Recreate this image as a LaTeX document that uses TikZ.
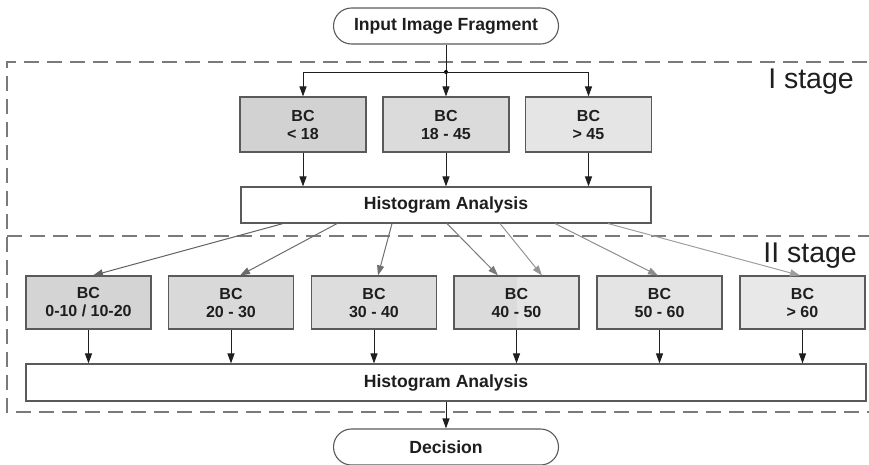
\documentclass[tikz,border=0pt]{standalone}
\usepackage{fontspec}
\setmainfont{Liberation Sans}
\usetikzlibrary{arrows.meta,calc}
\definecolor{bord}{HTML}{5A5A5A}
\definecolor{txt}{HTML}{1E1E1E}
\definecolor{dashc}{HTML}{7A7A7A}
\definecolor{fa}{HTML}{D2D2D2}
\definecolor{fb}{HTML}{DBDBDB}
\definecolor{fc}{HTML}{E5E5E5}
\definecolor{ga}{HTML}{D4D4D4}
\definecolor{gb}{HTML}{D9D9D9}
\definecolor{gc}{HTML}{DDDDDD}
\definecolor{gdl}{HTML}{DBDBDB}
\definecolor{gdr}{HTML}{E4E4E4}
\definecolor{ge}{HTML}{E4E4E4}
\definecolor{gf}{HTML}{E8E8E8}
\begin{document}
\begin{tikzpicture}[x=1pt,y=-1pt,
  box/.style={draw=bord, line width=1.1pt, minimum width=126pt, minimum height=55pt,
    inner sep=0pt, align=center, text=txt,
    font=\bfseries\fontsize{16}{18}\selectfont},
  lowbox/.style={box, minimum width=125pt, minimum height=53pt},
  wbox/.style={box, fill=white, minimum height=36pt, font=\bfseries\fontsize{17.6}{20}\selectfont},
  term/.style={wbox, rounded corners=18pt, minimum width=225pt},
  arr/.style={-{Triangle[length=10pt,width=7pt]}, line width=1pt, draw=black!88},
  garr/.style={-{Triangle[length=10pt,width=7pt]}, line width=1pt, draw=#1},
  dashline/.style={draw=dashc, line width=1.5pt, dash pattern=on 15pt off 8pt},
  stagelbl/.style={font=\fontsize{28.5}{30}\selectfont, anchor=base east, inner sep=0pt, text=txt}]

\useasboundingbox (0,0) rectangle (869,464);

% stage frames
\begin{scope}
  \clip (0,0) rectangle (869,464);
  \draw[dashline] (890,62) -- (7,62) -- (7,412) -- (890,412);
  \draw[dashline] (7,236) -- (890,236);
\end{scope}

\node[stagelbl] (s1) at (854,88) {I stage};
\node[stagelbl] (s2) at (857,262) {II stage};

% top
\node[term] (in) at (446,26) {Input Image Fragment};
\coordinate (j) at (446,72);

\node[box, fill=fa] (b1) at (303,124.5) {BC\\< 18};
\node[box, fill=fb] (b2) at (446,124.5) {BC\\18 - 45};
\node[box, fill=fc] (b3) at (588.5,124.5) {BC\\> 45};

\node[wbox, minimum width=410pt] (h1) at (446,205) {Histogram Analysis};

\draw[arr] (in) -- (b2);
\fill[black] (j) circle (2pt);
\draw[arr] (j) -| (b1.north);
\draw[arr] (j) -| (b3.north);
\draw[arr] (b1) -- (b1 |- h1.north);
\draw[arr] (b2) -- (b2 |- h1.north);
\draw[arr] (b3) -- (b3 |- h1.north);

% second stage
\node[lowbox, fill=ga] (c1) at (88.5,302.5) {BC\\0-10 / 10-20};
\node[lowbox, fill=gb] (c2) at (231,302.5) {BC\\20 - 30};
\node[lowbox, fill=gc] (c3) at (374,302.5) {BC\\30 - 40};
\node[lowbox, fill=gdr, path picture={\fill[gdl] (path picture bounding box.north west) rectangle (path picture bounding box.south);}] (c4) at (516.5,302.5) {BC\\40 - 50};
\node[lowbox, fill=ge] (c5) at (659.5,302.5) {BC\\50 - 60};
\node[lowbox, fill=gf] (c6) at (802.5,302.5) {BC\\> 60};

\draw[garr={black!62}] ([xshift=-163pt]h1.south) -- ([xshift=4.5pt]c1.north);
\draw[garr={black!58}] ([xshift=-109pt]h1.south) -- ([xshift=9pt]c2.north);
\draw[garr={black!56}] ([xshift=-54pt]h1.south) -- ([xshift=4pt]c3.north);
\draw[garr={black!52}] ([xshift=1pt]h1.south) -- ([xshift=-18.5pt]c4.north);
\draw[garr={black!42}] ([xshift=54pt]h1.south) -- ([xshift=25.5pt]c4.north);
\draw[garr={black!45}] ([xshift=109pt]h1.south) -- ([xshift=-1.5pt]c5.north);
\draw[garr={black!38}] ([xshift=162pt]h1.south) -- ([xshift=-2.5pt]c6.north);

\node[wbox, minimum width=840pt, minimum height=37pt] (h2) at (446,382.5) {Histogram Analysis};

\foreach \c in {c1,c2,c3,c4,c5,c6}{
  \draw[arr] (\c) -- (\c |- h2.north);
}

\node[term, minimum width=225pt] (dec) at (446,447) {Decision};
\draw[arr] (h2) -- (dec);

\end{tikzpicture}
\end{document}
